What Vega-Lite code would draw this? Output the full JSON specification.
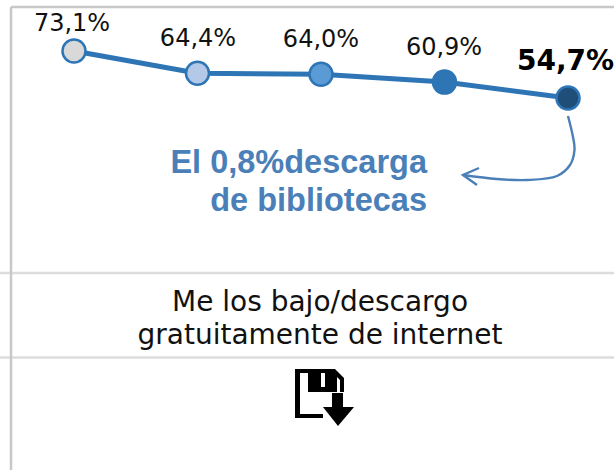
{"$schema":"https://vega.github.io/schema/vega-lite/v6.json","width":614,"height":470,"padding":0,"autosize":{"type":"none"},"background":"white","config":{"view":{"stroke":null}},
"datasets":{
"series":[{"step":1,"pct":73.1,"tone":"a"},{"step":2,"pct":64.4,"tone":"b"},{"step":3,"pct":64.0,"tone":"c"},{"step":4,"pct":60.9,"tone":"d"},{"step":5,"pct":54.7,"tone":"e"}],
"grid":[{"a":0.4008,"b":5.3725,"c":-13.96,"d":-13.96},{"a":0.4008,"b":5.3725,"c":-47.1,"d":-47.1}],
"frame":[{"a":0.49,"b":5.3725,"c":90.35,"d":90.35},{"a":0.49,"b":0.49,"c":90.35,"d":-91.21}],
"labels":[{"step":0.984,"pct":80.94,"t":"73,1%"},{"step":2.004,"pct":75.06,"t":"64,4%"},{"step":3.0,"pct":74.86,"t":"64,0%"},{"step":3.996,"pct":71.53,"t":"60,9%"}],
"bold":[{"step":4.98,"pct":65.65,"t":"54,7%"}],
"rowtext":[{"step":2.992,"pct":-28.86,"t":"Me los bajo/descargo"},{"step":2.992,"pct":-41.8,"t":"gratuitamente de internet"}],
"note":[{"step":3.858,"pct":25.26,"t":"El 0,8%descarga"},{"step":3.858,"pct":10.36,"t":"de bibliotecas"}],
"curve":[{"o":1,"step":5.0,"pct":47.61},{"o":2,"step":5.0404,"pct":39.38},{"o":3,"step":5.0526,"pct":34.28},{"o":4,"step":5.0162,"pct":28.39},{"o":5,"step":4.9109,"pct":24.08},{"o":6,"step":4.668,"pct":22.51},{"o":7,"step":4.4251,"pct":22.9},{"o":8,"step":4.1497,"pct":24.47}],
"head":[{"o":1,"step":4.2794,"pct":27.22},{"o":2,"step":4.1497,"pct":24.47},{"o":3,"step":4.2632,"pct":20.55}],
"icon":[{"step":3.0324,"pct":-62.59}]
},
"encoding":{"x":{"field":"step","type":"quantitative","scale":{"domain":[0.4008,5.3725],"nice":false,"zero":false},"axis":null},"y":{"field":"pct","type":"quantitative","scale":{"domain":[-91.21,93.1],"nice":false,"zero":false},"axis":null}},
"layer":[
{"data":{"name":"grid"},"mark":{"type":"rule","color":"#dcdcdc","strokeWidth":2.5},"encoding":{"x":{"field":"a","type":"quantitative"},"x2":{"field":"b"},"y":{"field":"c","type":"quantitative"},"y2":{"field":"d"}}},
{"data":{"name":"frame"},"mark":{"type":"rule","color":"#c8c8c8","strokeWidth":2.5},"encoding":{"x":{"field":"a","type":"quantitative"},"x2":{"field":"b"},"y":{"field":"c","type":"quantitative"},"y2":{"field":"d"}}},
{"data":{"name":"series"},"mark":{"type":"line","color":"#2e75b6","strokeWidth":5}},
{"data":{"name":"series"},"mark":{"type":"point","filled":true,"shape":"circle","size":530,"stroke":"#2e75b6","strokeWidth":2.5,"opacity":1},"encoding":{"fill":{"field":"tone","type":"nominal","legend":null,"scale":{"domain":["a","b","c","d","e"],"range":["#d9d9d9","#b4c9e7","#5b9bd5","#2e75b6","#1f4e79"]}}}},
{"data":{"name":"labels"},"mark":{"type":"text","font":"DejaVu Sans","fontSize":24,"color":"#111111","baseline":"alphabetic","align":"center"},"encoding":{"text":{"field":"t"}}},
{"data":{"name":"bold"},"mark":{"type":"text","font":"DejaVu Sans","fontWeight":"bold","fontSize":28,"color":"#000000","baseline":"alphabetic","align":"center"},"encoding":{"text":{"field":"t"}}},
{"data":{"name":"rowtext"},"mark":{"type":"text","font":"DejaVu Sans","fontSize":28,"color":"#111111","baseline":"alphabetic","align":"center"},"encoding":{"text":{"field":"t"}}},
{"data":{"name":"note"},"mark":{"type":"text","font":"Liberation Sans","fontWeight":"bold","fontSize":32.5,"color":"#4a7fb8","baseline":"alphabetic","align":"right"},"encoding":{"text":{"field":"t"}}},
{"data":{"name":"curve"},"mark":{"type":"line","color":"#4a7fb8","strokeWidth":2.4,"interpolate":"catmull-rom"},"encoding":{"order":{"field":"o","type":"ordinal"}}},
{"data":{"name":"head"},"mark":{"type":"line","color":"#4a7fb8","strokeWidth":2.4},"encoding":{"order":{"field":"o","type":"ordinal"}}},
{"data":{"name":"icon"},"mark":{"type":"point","filled":true,"color":"#000000","opacity":1,"size":3600,"shape":"M-1,-.933L.333,-.933L.633,-.633L.633,-.167L.5,-.167L.5,-.567L.267,-.8L-.833,-.8L-.833,.567L-.067,.567L-.067,.7L-1,.7ZM-.567,-.833L-.133,-.833L-.133,-.333L0,-.333L0,-.833L.333,-.833L.4,-.7L.4,-.167L-.567,-.167ZM.233,-.133L.6,-.133L.6,.333L.967,.333L.433,.967L-.067,.333L.233,.333Z"}}
]}
